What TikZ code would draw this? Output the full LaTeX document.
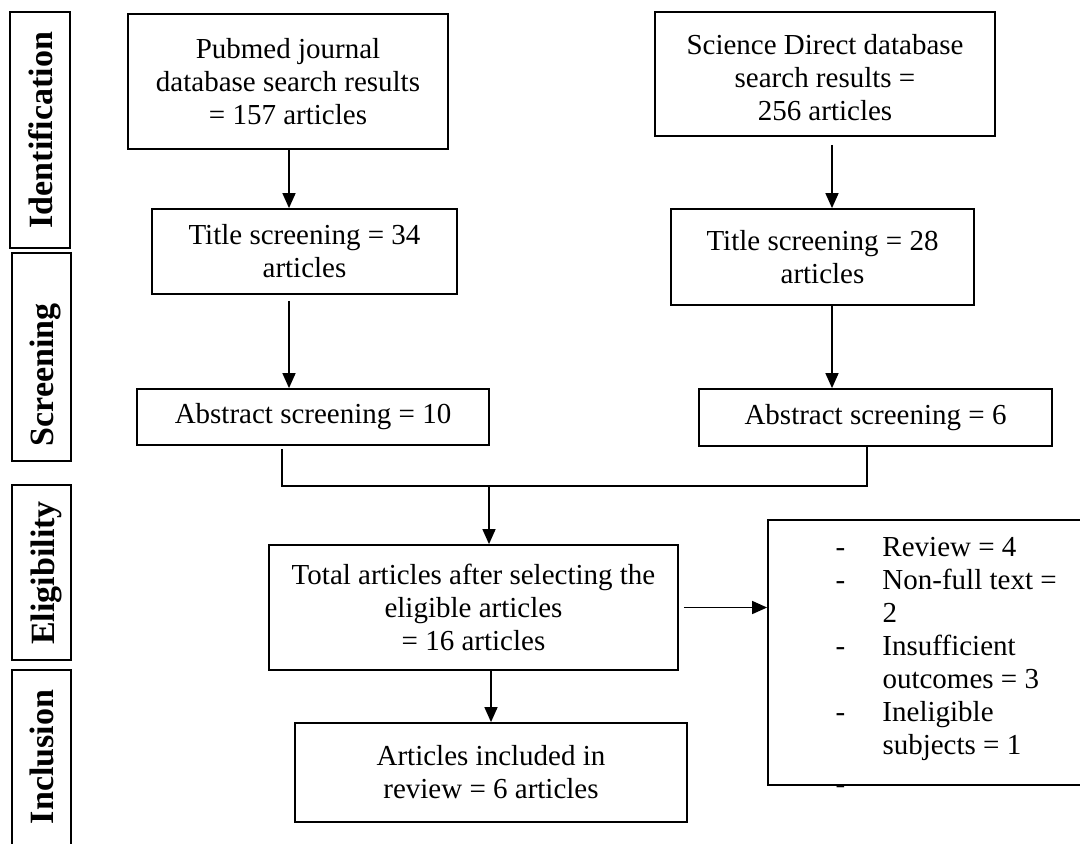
\documentclass[tikz,border=0pt]{standalone}
\usepackage{fontspec}
\setmainfont{Liberation Serif}
\usetikzlibrary{arrows.meta}

\begin{document}
\begin{tikzpicture}[x=0.5pt,y=-0.5pt,
        box/.style={draw,line width=0.9pt,align=center,inner sep=0pt,
            font=\fontsize{14.5}{16.5}\selectfont},
        stagetext/.style={rotate=90,inner sep=0pt,font=\fontsize{17}{20}\selectfont\bfseries},
        arr/.style={-{Triangle[length=7.5pt,width=6.5pt]},line width=0.75pt},
        link/.style={line width=0.75pt}]
                \useasboundingbox (0,0) rectangle (1080,843);
                % stage frames
                \draw[line width=0.9pt] (10,12) rectangle (70,248);
                \draw[line width=0.9pt] (12,253) rectangle (71,461);
                \draw[line width=0.9pt] (12,485) rectangle (71,660);
                \draw[line width=0.9pt] (12,850) |- (71,670) -- (71,850);
                \node[stagetext] (L_id)   at (41,130) {Identification};
                \node[stagetext] (L_scr)  at (45,375) {Screening};
                \node[stagetext] (L_elig) at (46,573) {Eligibility};
                \node[stagetext] (L_incl) at (42,757) {Inclusion};
                % boxes
                \node[box,minimum width=160pt,minimum height=67.5pt] (P_search) at (288,81.5)
                    {Pubmed journal\\database search results\\= 157 articles};
                \node[box,minimum width=170pt,minimum height=62pt] (S_search) at (825,74)
                    {\\[-3pt]Science Direct database\\search results =\\256 articles};
                \node[box,minimum width=152.5pt,minimum height=42.5pt] (P_title) at (304.5,251.5)
                    {Title screening = 34\\articles};
                \node[box,minimum width=151.5pt,minimum height=48pt] (S_title) at (822.5,257)
                    {Title screening = 28\\articles};
                \node[box,minimum width=176pt,minimum height=28pt] (P_abs) at (313,417)
                    {Abstract screening = 10};
                \node[box,minimum width=176.5pt,minimum height=28.5pt] (S_abs) at (875.5,417.5)
                    {Abstract screening = 6};
                \node[box,minimum width=204.5pt,minimum height=62.5pt] (T_all) at (473.5,607.5)
                    {Total articles after selecting the\\eligible articles\\= 16 articles};
                \node[box,minimum width=161pt,minimum height=132.5pt] (T_excl) at (929,652.5) {};
                \node[box,minimum width=196pt,minimum height=49.5pt] (T_incl) at (491,772.5)
                    {Articles included in\\review = 6 articles};
                \node[anchor=base west,inner sep=0pt,font=\fontsize{14.5}{16.5}\selectfont] (T_why)
                    at ([xshift=34pt,yshift=-18.5pt]T_excl.north west)
                    {\begin{tabular}[t]{@{}p{23.5pt}@{}l@{}}
                        -&Review = 4\\
                        -&Non-full text =\\
                         &2\\
                        -&Insufficient\\
                         &outcomes = 3\\
                        -&Ineligible\\
                         &subjects = 1\\[3pt]
                        -&
                    \end{tabular}};
                % connectors
                \coordinate (lcol) at (289,0);
                \coordinate (rcol) at (832,0);
                \coordinate (merge) at (489,486);
                \draw[arr] (P_search.south -| lcol) -- (P_title.north -| lcol);
                \draw[arr,shorten <=4pt] (S_search.south -| rcol) -- (S_title.north -| rcol);
                \draw[arr,shorten <=3pt] (P_title.south -| lcol) -- (P_abs.north -| lcol);
                \draw[arr] (S_title.south -| rcol) -- (S_abs.north -| rcol);
                \draw[link,shorten <=1.5pt] ([xshift=-15.5pt]P_abs.south) |- (merge)
                    -| ([xshift=-4.25pt]S_abs.south);
                \draw[arr] (merge) -- (T_all.north -| merge);
                \draw[arr,shorten <=2.5pt] (T_all.east) -- (T_excl.west |- T_all.east);
                \draw[arr] (T_all.south -| T_incl.north) -- (T_incl.north);
\end{tikzpicture}
\end{document}
